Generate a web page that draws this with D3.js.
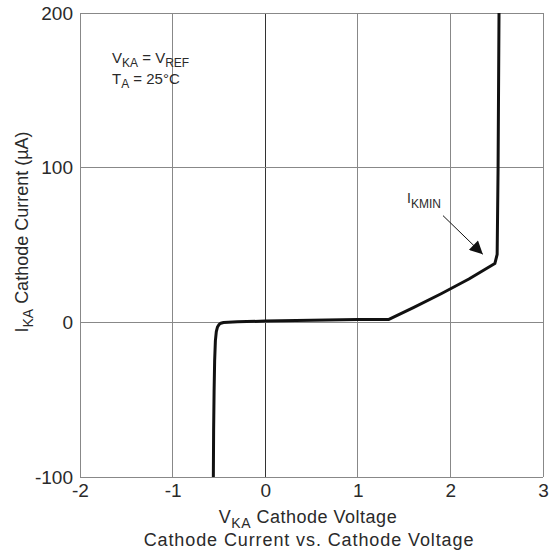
<!DOCTYPE html>
<html><head><meta charset="utf-8">
<script src="https://cdn.jsdelivr.net/npm/d3@7"></script>
<style>body{margin:0;background:#fff;} text{font-family:"Liberation Sans",Arial,sans-serif;fill:#2a2a2a;}</style>
</head><body>
<svg id="c" width="555" height="553"></svg>
<script>
const xTicks = [-2, -1, 0, 1, 2, 3];
const yTicks = [-100, 0, 100, 200];
const voltage = [-0.56, -0.557, -0.552, -0.546, -0.538, -0.528, -0.515, -0.5, -0.48, -0.45, -0.4, -0.3, 0, 0.5, 1.0, 1.33, 1.6, 1.9, 2.2, 2.48, 2.505, 2.515, 2.525];
const current = [-100, -70, -45, -25, -12, -6, -3, -1.5, -0.6, -0.1, 0.1, 0.3, 0.8, 1.3, 1.8, 1.8, 9.5, 18.5, 28, 38, 44, 100, 200];
const arrowFrom = [1.92, 69];
const arrowTo = [2.35, 44];

const svg = d3.select('#c');
const L = 80, R = 543, T = 13, B = 477;
const x = d3.scaleLinear().domain([-2, 3]).range([L, R]);
const y = d3.scaleLinear().domain([-100, 200]).range([B, T]);
const FF = '"Liberation Sans",Arial,sans-serif';
const TC = '#2a2a2a';

// grid
svg.append('g').selectAll('line').data(xTicks).join('line')
  .attr('x1', d => x(d)).attr('x2', d => x(d)).attr('y1', T).attr('y2', B)
  .attr('stroke', d => d === 0 ? '#333' : '#888').attr('stroke-width', 1).attr('shape-rendering', 'crispEdges');
svg.append('g').selectAll('line').data(yTicks).join('line')
  .attr('x1', L).attr('x2', R).attr('y1', d => y(d)).attr('y2', d => y(d))
  .attr('stroke', '#888').attr('stroke-width', 1).attr('shape-rendering', 'crispEdges');

// axes labels via d3 axes
const xa = svg.append('g').attr('transform', `translate(0,${B})`)
  .call(d3.axisBottom(x).tickValues(xTicks).tickSize(0).tickPadding(7).tickFormat(d => String(d)));
xa.select('.domain').remove();
xa.selectAll('text').attr('font-size', 19).attr('fill', TC).attr('font-family', FF);
const ya = svg.append('g').attr('transform', `translate(${L},0)`)
  .call(d3.axisLeft(y).tickValues(yTicks).tickSize(0).tickPadding(7).tickFormat(d => String(d)));
ya.select('.domain').remove();
ya.selectAll('text').attr('font-size', 19).attr('fill', TC).attr('font-family', FF);

// curve
svg.append('path').datum(current)
  .attr('d', d3.line().x((d, i) => x(voltage[i])).y(d => y(d)))
  .attr('fill', 'none').attr('stroke', '#111').attr('stroke-width', 3).attr('stroke-linejoin', 'round');

// arrow
svg.append('defs').append('marker').attr('id', 'ah').attr('viewBox', '0 0 10 10')
  .attr('refX', 10).attr('refY', 5).attr('markerWidth', 15).attr('markerHeight', 13)
  .attr('markerUnits', 'userSpaceOnUse').attr('orient', 'auto')
  .append('path').attr('d', 'M0,0 L10,5 L0,10 Z').attr('fill', '#111');
svg.append('line').attr('x1', x(arrowFrom[0])).attr('y1', y(arrowFrom[1]))
  .attr('x2', x(arrowTo[0])).attr('y2', y(arrowTo[1]))
  .attr('stroke', '#111').attr('stroke-width', 1).attr('marker-end', 'url(#ah)');

// annotation texts
const ann = svg.append('text').attr('x', 407).attr('y', 203).attr('font-size', 14);
ann.append('tspan').text('I');
ann.append('tspan').attr('dy', 5).attr('font-size', 12).text('KMIN');

const t1 = svg.append('text').attr('x', 112).attr('y', 63).attr('font-size', 15);
t1.append('tspan').text('V');
t1.append('tspan').attr('dy', 4).attr('font-size', 12).text('KA');
t1.append('tspan').attr('dy', -4).text(' = V');
t1.append('tspan').attr('dy', 4).attr('font-size', 12).text('REF');
const t2 = svg.append('text').attr('x', 112).attr('y', 84).attr('font-size', 15);
t2.append('tspan').text('T');
t2.append('tspan').attr('dy', 4).attr('font-size', 12).text('A');
t2.append('tspan').attr('dy', -4).text(' = 25°C');

// axis titles
const xt = svg.append('text').attr('x', 308).attr('y', 523).attr('text-anchor', 'middle').attr('font-size', 18).attr('letter-spacing', 0.5);
xt.append('tspan').text('V');
xt.append('tspan').attr('dy', 5).attr('font-size', 14).text('KA');
xt.append('tspan').attr('dy', -5).text(' Cathode Voltage');
svg.append('text').attr('x', 309).attr('y', 546).attr('text-anchor', 'middle').attr('font-size', 18)
  .attr('letter-spacing', 0.9).text('Cathode Current vs. Cathode Voltage');

const yt = svg.append('text').attr('transform', 'translate(28,232) rotate(-90)').attr('text-anchor', 'middle').attr('font-size', 18);
yt.append('tspan').text('I');
yt.append('tspan').attr('dy', 5).attr('font-size', 14).text('KA');
yt.append('tspan').attr('dy', -5).text(' Cathode Current (µA)');
</script>
</body></html>
